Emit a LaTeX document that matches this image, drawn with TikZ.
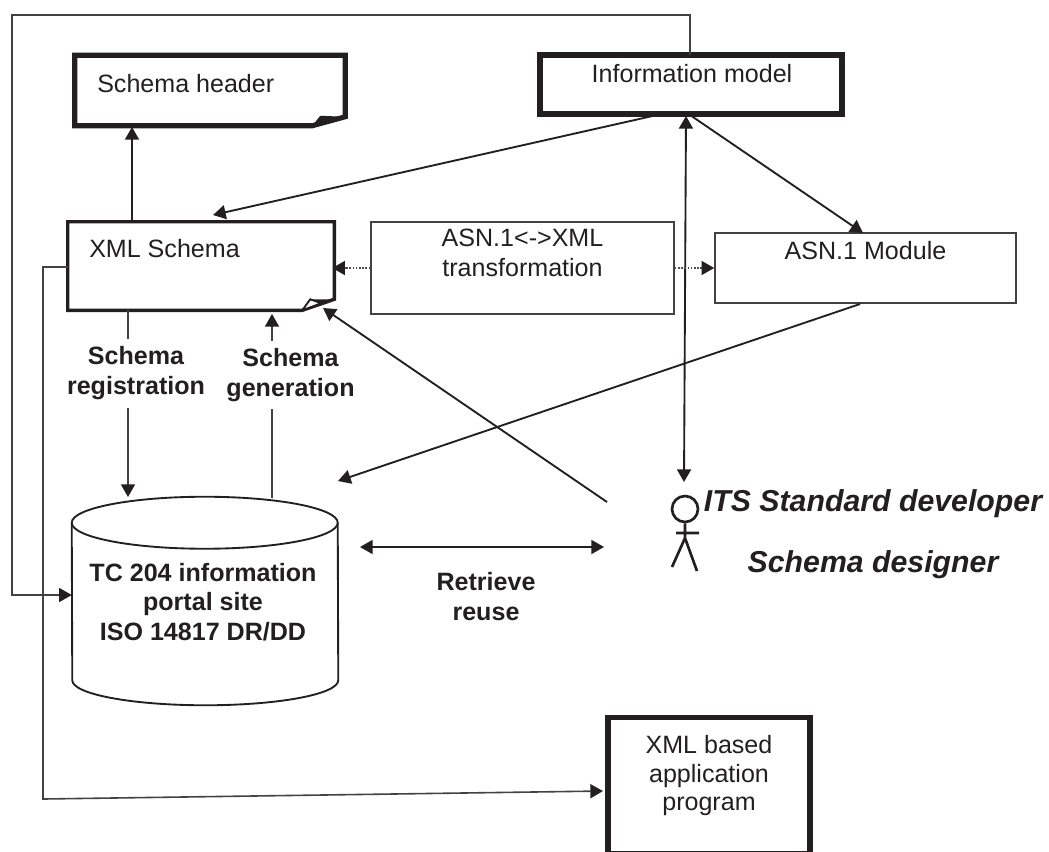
\documentclass[tikz,border=0pt]{standalone}
\usepackage{fontspec}
\setmainfont{Liberation Sans}
\usetikzlibrary{arrows.meta,calc}
\definecolor{ink}{HTML}{231F20}
\tikzset{
  x=0.75pt,y=-0.75pt,
  every node/.style={text=ink,font=\fontsize{18.8pt}{21pt}\selectfont,align=center,inner sep=0pt},
  tip/.style={-{Triangle[length=9.5pt,width=10.5pt,color=ink,fill=ink]}},
  twotip/.style={{Triangle[length=9.5pt,width=10.5pt,color=ink,fill=ink]}-{Triangle[length=9.5pt,width=10.5pt,color=ink,fill=ink]}},
  wire/.style={draw=ink,line width=1.4pt},
  thinwire/.style={draw=ink!85,line width=1.2pt},
  dotwire/.style={draw=ink!80,line width=1.2pt,dash pattern=on 1.2pt off 1.2pt},
  thickbox/.style={draw=ink,line width=3.8pt,line join=miter},
  midbox/.style={draw=ink,line width=2.6pt,line join=miter},
  slimbox/.style={draw=ink!85,line width=1.2pt},
  boldtext/.style={font=\fontsize{18.8pt}{22.5pt}\selectfont\bfseries},
  bold label/.style={boldtext,fill=white,inner ysep=5.5pt},
  actortext/.style={font=\fontsize{22.7pt}{26pt}\selectfont\bfseries\itshape},
}
\begin{document}
\begin{tikzpicture}
\useasboundingbox (0,0) rectangle (1049,851);
% nodes
\node[minimum width=270*0.75pt,minimum height=70*0.75pt] (header) at (210,90.5) {};
\node[anchor=base west] at (97,92) {Schema header};
\node[minimum width=266*0.75pt,minimum height=88*0.75pt] (xsd) at (201,266) {};
\node[anchor=base west] at (89,257) {XML Schema};
\draw[thickbox] (header.north west) -- (header.north east) -- ($(header.south east)+(0,-9)$) -- ($(header.south east)+(-33,0)$) -- (header.south west) -- cycle;
\fill[ink] ($(header.south east)+(-33,0)$) -- ($(header.south east)+(-25,-10)$) -- ($(header.south east)+(0,-9)$) -- cycle;
\draw[midbox] (xsd.north west) -- (xsd.north east) -- ($(xsd.south east)+(0,-11)$) -- ($(xsd.south east)+(-32,0)$) -- (xsd.south west) -- cycle;
\draw[ink,line width=1.4pt,fill=white] ($(xsd.south east)+(-32,0)$) -- ($(xsd.south east)+(-24,-11)$) -- ($(xsd.south east)+(-13,-7)$) -- cycle;
\fill[ink] ($(xsd.south east)+(-24,-11)$) -- ($(xsd.south east)+(0,-11)$) -- ($(xsd.south east)+(-13,-7)$) -- cycle;
\node[thickbox,minimum width=302*0.75pt,minimum height=59*0.75pt] (info) at (691,84.5) {};
\node[anchor=base] at (692,82) {Information model};
\node[slimbox,minimum width=303*0.75pt,minimum height=92*0.75pt] (trans) at (522.5,268) {};
\node[anchor=base] at (522.5,246) {ASN.1<->XML};
\node[anchor=base] at (522.5,276) {transformation};
\node[slimbox,minimum width=301*0.75pt,minimum height=70*0.75pt] (asn) at (865.5,268) {};
\node[anchor=base] at (865.5,259) {ASN.1 Module};
\node[thickbox,minimum width=202*0.75pt,minimum height=136*0.75pt] (app) at (709,785.5) {};
\node[anchor=base] at (709,753) {XML based};
\node[anchor=base] at (709,782) {application};
\node[anchor=base] at (709,810) {program};
% portal cylinder
\node[minimum width=266*0.75pt,minimum height=208*0.75pt] (portal) at (205,601) {};
\draw[ink,line width=1.4pt,fill=white] ($(portal.north west)+(0,26)$)
  arc[start angle=180,end angle=360,x radius=133,y radius=26]
  -- ($(portal.south east)+(0,-25)$) arc[start angle=0,end angle=180,x radius=133,y radius=25] -- cycle;
\draw[ink,line width=1.4pt] ($(portal.north west)+(0,26)$) arc[start angle=180,end angle=0,x radius=133,y radius=26];
\node[boldtext,anchor=base] at (203,581) {TC 204 information};
\node[boldtext,anchor=base] at (203,610.5) {portal site};
\node[boldtext,anchor=base] at (203,640.5) {ISO 14817 DR/DD};
% actor
\node[minimum size=26*0.75pt,draw=ink,line width=2pt,circle] (head) at (685,509) {};
\coordinate (hip) at (685,538);
\coordinate (armL) at (676,533);
\coordinate (armR) at (699,533);
\coordinate (footL) at (672,567);
\coordinate (footR) at (697,571);
\draw[ink,line width=2pt] (head.south) -- (hip) (armL) -- (armR) (hip) -- (footL) (hip) -- (footR);
\node[actortext,anchor=base] (dev) at (873,511) {ITS Standard developer};
\node[actortext,anchor=base] (designer) at (873,572) {Schema designer};
% free ends
\coordinate (actorTop) at (684,482);
\coordinate (actorL) at (607,502);
\coordinate (actorM) at (604,547);
\coordinate (portalR) at (360,547);
% connectors
\coordinate (topA) at (690,15);
\coordinate (topB) at (12,15);
\coordinate (topC) at (12,595);
\coordinate (infoTop) at (690,55);
\draw[thinwire,tip] (infoTop) -- (topA) -- (topB) -- (topC) -- (portal.west |- topC);
\coordinate (xsdUp) at (132,222);
\coordinate (headerUp) at (132,127);
\draw[wire,tip] (xsdUp) -- (headerUp);
\coordinate (infoA) at (657,115);
\coordinate (xsdA) at (213,215);
\draw[wire,tip] (infoA) -- (xsdA);
\coordinate (infoB) at (690,115);
\coordinate (asnB) at (863,233);
\draw[wire,tip] (infoB) -- (asnB);
\coordinate (infoC) at (686,116);
\draw[wire,twotip] (infoC) -- (actorTop);
\draw[dotwire,tip] (trans.west) -- ($(xsd.east)+(-2,2)$);
\draw[dotwire,tip] (trans.east) -- (asn.west);
\coordinate (asnD) at (860,304);
\coordinate (portalD) at (338,481);
\draw[wire,tip] (asnD) -- (portalD);
\coordinate (xsdE) at (323,308);
\draw[wire,tip] (actorL) -- (xsdE);
\draw[wire,twotip] (portalR) -- (actorM);
\node[boldtext] (retr) at (486,597) {Retrieve\\reuse};
\coordinate (xsdF) at (128,310);
\coordinate (portalF) at (128,497);
\coordinate (portalG) at (272,498);
\coordinate (xsdG) at (272,314);
\draw[thinwire,tip] (xsdF) -- (portalF);
\draw[thinwire,tip] (portalG) -- (xsdG);
\node[bold label] (reg) at (136,373.5) {Schema\\registration};
\node[bold label] (gen) at (290.5,375) {Schema\\generation};
\coordinate (xsdH) at (68,267);
\coordinate (busA) at (43,267);
\coordinate (busB) at (43,799);
\coordinate (appIn) at (603,791);
\draw[thinwire,tip] (xsdH) -- (busA) -- (busB) -- (appIn);
\end{tikzpicture}
\end{document}
